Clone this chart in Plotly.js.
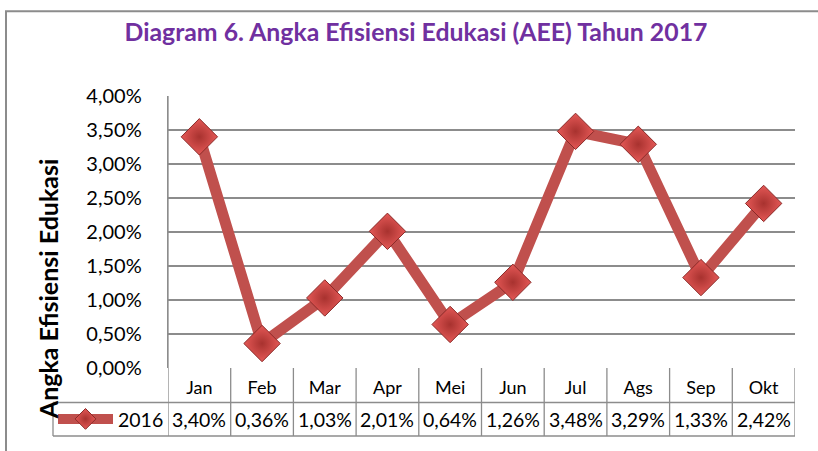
<!DOCTYPE html>
<html>
<head>
<meta charset="utf-8">
<script src="https://cdn.plot.ly/plotly-3.0.1.min.js"></script>
<style>html,body{margin:0;padding:0;background:#fff;}#chart{width:818px;height:451px;}</style>
</head>
<body>
<div id="chart"></div>
<script>
// ---- data ----
var categories = ["Jan", "Feb", "Mar", "Apr", "Mei", "Jun", "Jul", "Ags", "Sep", "Okt"];
var values2016 = [3.40, 0.36, 1.03, 2.01, 0.64, 1.26, 3.48, 3.29, 1.33, 2.42];
var seriesName = "2016";
var yTickVals = [0, 0.5, 1, 1.5, 2, 2.5, 3, 3.5, 4];
var chartTitle = "Diagram 6. Angka Efisiensi Edukasi (AEE) Tahun 2017";
var yTitle = "Angka Efisiensi Edukasi";

// ---- geometry helpers (pixel layout of the figure) ----
var W = 818, H = 451;
var mL = 168, mR = 23, mT = 96, mB = 79;
var pw = W - mL - mR, ph = H - mT - mB;
function px2x(p) { return (p - mL) / pw; }
function py2y(p) { return (H - mB - p) / ph; }

var FONT = "Lato, Open Sans, sans-serif";
var gridColor = "#8c8c8c";
var red = "#C0504D";

function fmt(v) { return v.toFixed(2).replace(".", ",") + "%"; }

var trace = {
  type: "scatter",
  mode: "lines+markers",
  x: categories,
  y: values2016,
  name: seriesName,
  line: { color: red, width: 11 },
  marker: {
    symbol: "diamond",
    size: 28,
    color: "#E45856",
    gradient: { type: "radial", color: "#A8322F" },
    line: { color: "#8A2A28", width: 1 }
  },
  cliponaxis: false,
  hoverinfo: "x+y"
};

var rowSep = py2y(407);
var tableBottom = py2y(441);
var valRowMid = py2y(424);
var legLeft = px2x(53);

var shapes = [];
for (var i = 0; i <= categories.length; i++) {
  shapes.push({ type: "line", xref: "x", yref: "paper", x0: i - 0.5, x1: i - 0.5,
    y0: i === 0 ? 1 : 0, y1: tableBottom, line: { color: gridColor, width: 1.3 } });
}
shapes.push({ type: "line", xref: "paper", yref: "paper", x0: legLeft, x1: 1, y0: rowSep, y1: rowSep, line: { color: gridColor, width: 1.3 } });
shapes.push({ type: "line", xref: "paper", yref: "paper", x0: legLeft, x1: 1, y0: tableBottom, y1: tableBottom, line: { color: gridColor, width: 1.3 } });
shapes.push({ type: "line", xref: "paper", yref: "paper", x0: legLeft, x1: legLeft, y0: rowSep, y1: tableBottom, line: { color: gridColor, width: 1.3 } });
shapes.push({ type: "rect", xref: "paper", yref: "paper", x0: px2x(6), x1: px2x(830), y0: py2y(10), y1: py2y(470), line: { color: "#8c8c8c", width: 2 }, layer: "below" });

var annotations = [];
categories.forEach(function (c, i) {
  annotations.push({ xref: "x", yref: "paper", x: c, y: valRowMid, text: fmt(values2016[i]),
    showarrow: false, xanchor: "center", yanchor: "middle", font: { family: FONT, size: 19.5, color: "#000" } });
});
annotations.push({ xref: "paper", yref: "paper", x: px2x(48), y: py2y(292), text: yTitle, textangle: -90,
  showarrow: false, xanchor: "center", yanchor: "middle", font: { family: FONT, size: 25, color: "#000", weight: "bold" } });

var layout = {
  width: W, height: H,
  margin: { l: mL, r: mR, t: mT, b: mB, pad: 0 },
  paper_bgcolor: "#fff", plot_bgcolor: "#fff",
  showlegend: true,
  legend: { x: px2x(53), y: valRowMid, xanchor: "left", yanchor: "middle", orientation: "h",
    font: { family: FONT, size: 19.5, color: "#000" }, itemwidth: 55, bgcolor: "rgba(0,0,0,0)" },
  title: { text: chartTitle, x: 416 / W, xref: "container", xanchor: "center", y: 1 - 32 / H, yref: "container", yanchor: "middle",
    font: { family: FONT, size: 24.8, color: "#7030A0", weight: "bold" } },
  xaxis: {
    type: "category", range: [-0.5, categories.length - 0.5], showgrid: false, zeroline: false,
    showline: false, ticks: "", ticklabelstandoff: 7,
    tickfont: { family: FONT, size: 18, color: "#000" }, fixedrange: true
  },
  yaxis: {
    range: [0, 4], tickvals: yTickVals, ticktext: yTickVals.map(fmt),
    showgrid: true, gridcolor: gridColor, gridwidth: 1.3, zeroline: false,
    showline: true, linecolor: gridColor, linewidth: 1.3, ticks: "", ticklabelstandoff: 21,
    tickfont: { family: FONT, size: 20, color: "#000" }, fixedrange: true
  },
  shapes: shapes,
  annotations: annotations
};

Plotly.newPlot("chart", [trace], layout, { displayModeBar: false, staticPlot: true });
</script>
</body>
</html>
